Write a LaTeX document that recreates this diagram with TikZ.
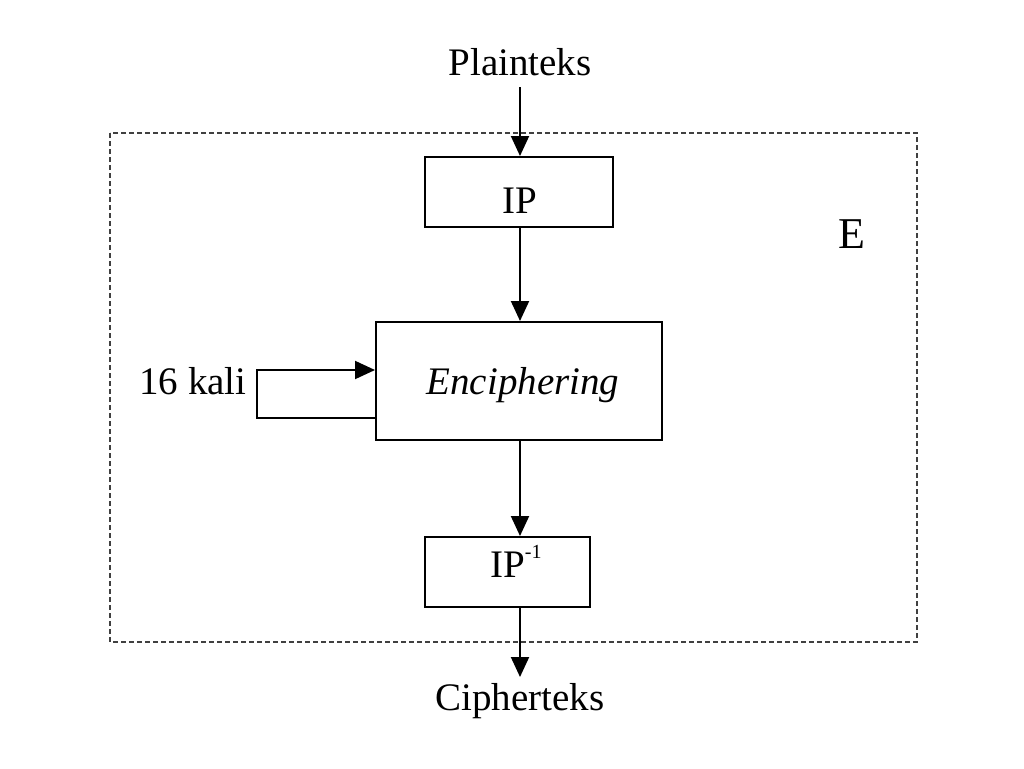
\documentclass[tikz,border=0pt]{standalone}
\usepackage{fontspec}
\setmainfont{Liberation Serif}
\usetikzlibrary{arrows.meta}
\begin{document}
\begin{tikzpicture}[x=1pt,y=-1pt,
  blk/.style={draw,line width=2pt,inner sep=0pt},
  lbl/.style={inner sep=0pt,anchor=base,font=\fontsize{39}{44}\selectfont},
  conn/.style={line width=2pt,-{Triangle[length=20pt,width=18pt]}}]
\useasboundingbox (0,0) rectangle (1024,768);
\draw[line width=1.8pt,dash pattern=on 5pt off 3pt,black!75] (110,133) rectangle (917,642);
\node[lbl] (pt) at (520,75) {Plainteks};
\node[blk,minimum width=188pt,minimum height=70pt] (ip) at (519,192) {};
\node[lbl] (ipt) at (520,213) {IP};
\node[lbl,font=\fontsize{44}{50}\selectfont] (e) at (852,248) {E};
\node[blk,minimum width=286pt,minimum height=118pt] (enc) at (519,381) {};
\node[lbl] (enct) at (523,394) {\itshape Enciphering};
\node[lbl] (kali) at (193,394) {16 kali};
\node[blk,minimum width=165pt,minimum height=70pt] (ipi) at (507.5,572) {};
\node[lbl,anchor=base west] (ipit) at (490,577) {IP\raisebox{19pt}{\fontsize{20}{22}\selectfont -1}};
\node[lbl] (ct) at (520,710) {Cipherteks};
\coordinate (c1) at (257,418);
\coordinate (c2) at (257,370);
\coordinate (top) at (520,87);
\coordinate (ctip) at (520,677);
\draw[conn] (top) -- (top |- ip.north);
\draw[conn] (top |- ip.south) -- (top |- enc.north);
\draw[conn] (top |- enc.south) -- (top |- ipi.north);
\draw[conn] (top |- ipi.south) -- (ctip);
\draw[conn] (enc.west |- c1) -- (c1) -- (c2) -- (enc.west |- c2);
\end{tikzpicture}
\end{document}
